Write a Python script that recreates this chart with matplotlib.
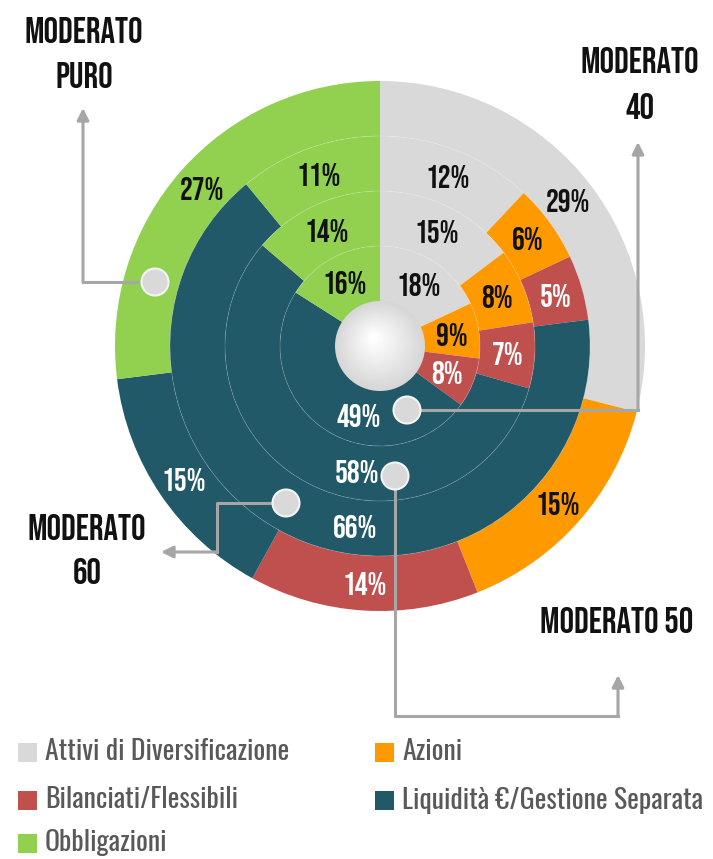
import numpy as np
import matplotlib.pyplot as plt
from matplotlib.patches import Circle, Rectangle

# categorie e colori
categories = ["Attivi di Diversificazione", "Azioni", "Bilanciati/Flessibili",
              "Liquidità €/Gestione Separata", "Obbligazioni"]
colors = ["#d9d9d9", "#ff9900", "#c0504d", "#215968", "#92d050"]
text_colors = ["#111111", "#111111", "white", "white", "#111111"]

# composizione di ogni profilo (%), dall'anello esterno a quello interno
moderato_puro = [29, 15, 14, 15, 27]
moderato_60 = [12, 6, 5, 66, 11]
moderato_50 = [15, 8, 7, 58, 14]
moderato_40 = [18, 9, 8, 49, 16]

rings = [moderato_puro, moderato_60, moderato_50, moderato_40]
ring_names = [("MODERATO", "PURO"), ("MODERATO", "60"), ("MODERATO 50",), ("MODERATO", "40")]

BIG_FONT = ["Bebas Neue", "DejaVu Sans"]
LEG_FONT = ["Oswald", "Barlow Condensed", "DejaVu Sans"]
LINE_C = "#a6a6a6"

cx, cy = 380, 346
radii = [265, 210, 155, 100]
width = 55
# angolo (orario dall'alto) delle etichette della liquidità, non centrate
teal_angle = [None, 188, 190.5, 197]

fig = plt.figure(figsize=(7.13, 8.59), dpi=100)
ax = fig.add_axes([0, 0, 1, 1])

for i, vals in enumerate(rings):
    r = radii[i]
    w = width if i < 3 else r
    wedges, _ = ax.pie(vals, colors=colors, radius=r, center=(cx, cy),
                       startangle=270, counterclock=True,
                       wedgeprops=dict(width=w, linewidth=0))
    rm = r - width / 2
    for j, (wd, v) in enumerate(zip(wedges, vals)):
        if j == 3 and teal_angle[i] is not None:
            th = np.deg2rad(teal_angle[i] - 90)
        else:
            th = np.deg2rad((wd.theta1 + wd.theta2) / 2)
        ax.text(cx + rm * np.cos(th), cy + rm * np.sin(th), f"{v}%",
                ha="center", va="center", fontsize=23,
                color=text_colors[j], family=BIG_FONT, zorder=6)

# cerchi sottili tra gli anelli
for r in radii[1:]:
    ax.add_patch(Circle((cx, cy), r, fill=False, edgecolor="white",
                        alpha=0.18, lw=0.6, zorder=3))

# sfera centrale
for k in range(30):
    f = k / 29
    rr = 45 * (1 - f * 0.9)
    g = 0.84 + 0.155 * f
    ax.add_patch(Circle((cx - 6 * f, cy - 8 * f), rr, facecolor=(g, g, g),
                        edgecolor="none", zorder=4))

# collegamenti con frecce
dots = [(155, 282), (286, 503), (395, 476), (407, 410)]
paths = [
    [(155, 282), (83, 282), (83, 108)],
    [(286, 503), (217, 503), (217, 552), (161, 552)],
    [(395, 476), (395, 716), (618, 716), (618, 675)],
    [(407, 410), (638, 410), (638, 142)],
]
for p in paths:
    xs, ys = zip(*p[:-1])
    ax.plot(xs, ys, color=LINE_C, lw=2.2, zorder=5, solid_capstyle="projecting")
    ax.annotate("", xy=p[-1], xytext=p[-2], zorder=5,
                arrowprops=dict(arrowstyle="-|>,head_length=0.7,head_width=0.35",
                                color=LINE_C, lw=2.2, shrinkA=0, shrinkB=0))
for d in dots:
    ax.add_patch(Circle(d, 13.5, facecolor="#d9d9d9", edgecolor="#f4f4f4",
                        lw=1.5, zorder=7))

# nomi dei profili
name_pos = [[(84, 30), (84, 75)], [(87, 527), (87, 571)], [(617, 620)],
            [(640, 60), (640, 106)]]
for lines, pos in zip(ring_names, name_pos):
    for t, (x, y) in zip(lines, pos):
        ax.text(x, y, t, ha="center", va="center", fontsize=26,
                color="#111111", family=BIG_FONT)

# legenda
leg_pos = [(18, 752), (375, 752), (18, 800), (375, 800), (18, 843)]
for k, (x, y) in enumerate(leg_pos):
    ax.add_patch(Rectangle((x, y - 9.5), 19, 19, facecolor=colors[k], edgecolor="none"))
    ax.text(x + 27, y, categories[k], ha="left", va="center", fontsize=20,
            color="#595959", family=LEG_FONT)

ax.set_xlim(0, 713)
ax.set_ylim(859, 0)
ax.set_aspect("equal")
ax.axis("off")

plt.savefig("out.png", dpi=100)
